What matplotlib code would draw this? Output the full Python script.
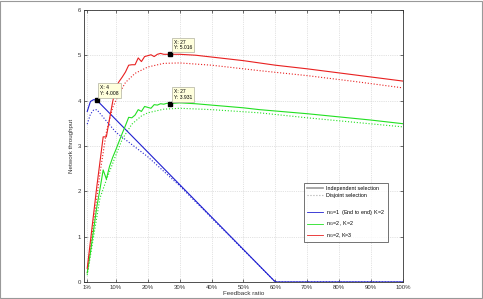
import matplotlib
matplotlib.use("Agg")
import matplotlib.pyplot as plt
from matplotlib.lines import Line2D
from matplotlib.patches import Rectangle

plt.rcParams['font.family'] = ['Liberation Sans', 'DejaVu Sans']

# feedback ratio (%) break points and network throughput
blue_x = [1, 2, 3, 4, 60, 100]
blue_y = [3.76, 3.98, 4.02, 4.008, 0.0, 0.0]
blue_dx = [1, 2, 3, 4, 10, 20, 30, 60, 100]
blue_dy = [3.48, 3.70, 3.79, 3.80, 3.30, 2.76, 2.12, 0.0, 0.0]

green_x = [1, 2, 3, 4, 5, 6, 7, 8, 9, 10, 11, 12, 13, 14, 15, 16, 17, 18, 19,
           20, 21, 22, 23, 24, 25, 26, 27, 28, 30, 35, 40, 50, 55, 60, 70, 80, 90, 100]
green_y = [0.20, 0.65, 1.15, 1.65, 2.05, 2.47, 2.27, 2.55, 2.75, 2.92, 3.10, 3.28, 3.45,
           3.63, 3.62, 3.68, 3.80, 3.76, 3.87, 3.85, 3.83, 3.91, 3.90, 3.93, 3.92, 3.94,
           3.931, 3.94, 3.95, 3.93, 3.90, 3.84, 3.80, 3.77, 3.71, 3.64, 3.57, 3.49]
green_dx = [1, 3, 5, 7, 10, 12, 15, 18, 20, 25, 30, 40, 55, 70, 85, 100]
green_dy = [0.15, 1.00, 1.85, 2.25, 2.80, 3.15, 3.48, 3.66, 3.73, 3.81, 3.83, 3.80, 3.73,
            3.62, 3.52, 3.42]

red_x = [1, 2, 3, 4, 5, 6, 7, 8, 9, 10, 11, 12, 13, 14, 15, 16, 17, 18, 19, 20,
         21, 22, 23, 24, 25, 26, 27, 28, 30, 35, 40, 50, 55, 60, 70, 80, 90, 100]
red_y = [0.30, 0.90, 1.50, 2.10, 2.65, 3.20, 3.20, 3.60, 3.98, 4.30, 4.42, 4.52, 4.63,
         4.78, 4.79, 4.79, 4.94, 4.86, 4.97, 4.99, 5.01, 4.97, 5.02, 5.04, 5.02, 5.02,
         5.016, 5.02, 5.02, 5.00, 4.96, 4.88, 4.83, 4.78, 4.70, 4.61, 4.52, 4.43]
red_dx = [1, 3, 5, 7, 9, 11, 13, 16, 20, 25, 30, 40, 55, 70, 85, 100]
red_dy = [0.20, 1.30, 2.40, 3.30, 3.85, 4.15, 4.40, 4.60, 4.74, 4.82, 4.83, 4.78, 4.66,
          4.55, 4.42, 4.28]

tips = [(4, 4.008), (27, 5.016), (27, 3.931)]

xticks = [1, 10, 20, 30, 40, 50, 60, 70, 80, 90, 100]
xlabels = ['1%'] + ['%d%%' % v for v in xticks[1:]]

fig = plt.figure(figsize=(4.83, 2.99), dpi=100)
ax = fig.add_axes([0.174, 0.057, 0.660, 0.910])

c_blue = '#2020d0'
c_green = '#22e022'
c_red = '#e82020'

ax.plot(blue_dx, blue_dy, ':', color=c_blue, lw=0.8)
ax.plot(green_dx, green_dy, ':', color=c_green, lw=0.8)
ax.plot(red_dx, red_dy, ':', color=c_red, lw=0.8)
ax.plot(blue_x, blue_y, '-', color=c_blue, lw=0.8)
ax.plot(green_x, green_y, '-', color=c_green, lw=0.8)
ax.plot(red_x, red_y, '-', color=c_red, lw=0.8)

for tx, ty in tips:
    ax.plot([tx], [ty], 's', color='black', ms=2.5)
    ax.annotate('X: %g\nY: %.3f' % (tx, ty), xy=(tx, ty), xytext=(2.5, 3),
                textcoords='offset points', fontsize=3.6, va='bottom', ha='left',
                linespacing=1.2,
                bbox=dict(boxstyle='square,pad=0.4', fc='#ffffdc', ec='#b0b0a0', lw=0.5))

ax.set_xlim(0, 100)
ax.set_ylim(0, 6)
ax.set_xticks(xticks)
ax.set_xticklabels(xlabels)
ax.set_yticks(range(7))
ax.tick_params(direction='in', length=2.5, width=0.5, labelsize=4.3, pad=2,
               top=True, right=True, colors='#333333')
ax.grid(True, linestyle=':', color='#c8c8c8', lw=0.5)
for s in ax.spines.values():
    s.set_linewidth(0.6)
    s.set_color('#333333')
ax.set_xlabel('Feedback ratio', fontsize=4.5, labelpad=1, color='#333333')
ax.set_ylabel('Network throughput', fontsize=4.5, labelpad=3, color='#333333')

handles = [
    Line2D([], [], color='#999999', lw=1.2, ls='-'),
    Line2D([], [], color='#aaaaaa', lw=0.8, ls=':'),
    Line2D([], [], color='none'),
    Line2D([], [], color=c_blue, lw=0.6),
    Line2D([], [], color=c_green, lw=0.6),
    Line2D([], [], color=c_red, lw=0.6),
]
labels = ['Independent selection', 'Disjoint selection', ' ',
          '$\\mathregular{n_G}$=1  (End to end), K=2',
          '$\\mathregular{n_G}$=2 , K=2',
          '$\\mathregular{n_G}$=2, K=3']
leg = ax.legend(handles, labels, loc='lower left', bbox_to_anchor=(0.683, 0.136),
                fontsize=3.9, frameon=True, fancybox=False, handlelength=2.9,
                handletextpad=0.5, borderpad=0.5, labelspacing=0.45)
leg.get_frame().set_edgecolor('#333333')
leg.get_frame().set_linewidth(0.6)

fig.patches.append(Rectangle((0.001, 0.002), 0.997, 0.995, transform=fig.transFigure,
                             fill=False, ec='#999999', lw=0.8))

fig.savefig('out.png', dpi=100)
